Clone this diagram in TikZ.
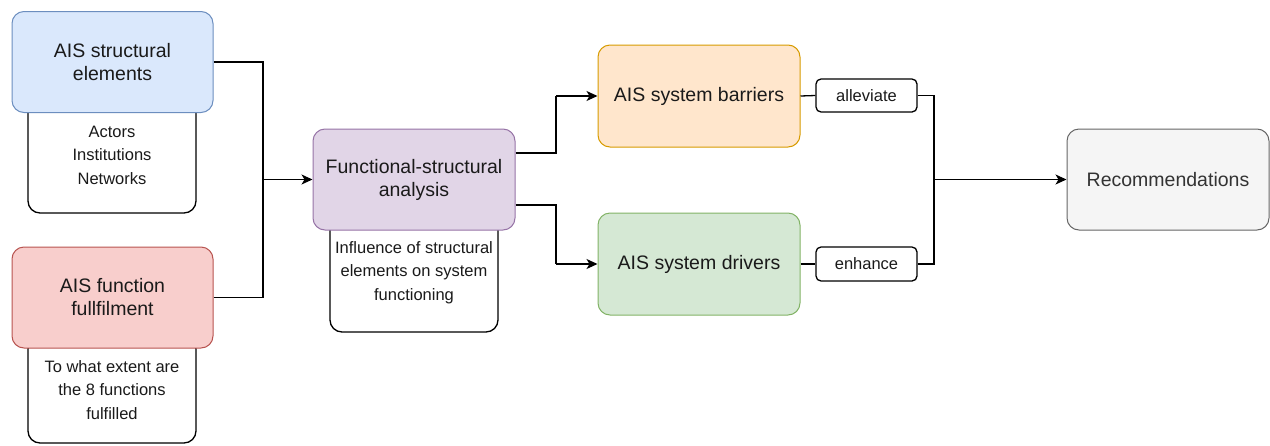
\documentclass[tikz,border=0pt]{standalone}
\usepackage{fontspec}
\setmainfont{Liberation Sans}
\usetikzlibrary{arrows.meta}

\definecolor{blueF}{HTML}{DAE8FC}\definecolor{blueD}{HTML}{6C8EBF}
\definecolor{redF}{HTML}{F8CECC}\definecolor{redD}{HTML}{B85450}
\definecolor{purpF}{HTML}{E1D5E7}\definecolor{purpD}{HTML}{9673A6}
\definecolor{orgF}{HTML}{FFE6CC}\definecolor{orgD}{HTML}{D79B00}
\definecolor{grnF}{HTML}{D5E8D4}\definecolor{grnD}{HTML}{82B366}
\definecolor{greyF}{HTML}{F5F5F5}\definecolor{greyD}{HTML}{666666}
\definecolor{txt}{HTML}{1A1A1A}\definecolor{greyT}{HTML}{333333}

\tikzset{
  mainbox/.style={draw, line width=1pt, rounded corners=12pt, minimum width=201pt,
    minimum height=101pt, align=center, text=txt, inner sep=0pt,
    font=\fontsize{19.5}{23}\selectfont},
  notebox/.style={draw=black, fill=white, line width=1.3pt, rounded corners=12pt,
    minimum width=168pt, align=center, text=txt, inner sep=0pt,
    font=\fontsize{16.5}{23.5}\selectfont},
  tagbox/.style={draw=black, fill=white, line width=1.3pt, rounded corners=5pt,
    minimum width=101pt, minimum height=33pt, text=txt, inner sep=0pt,
    font=\fontsize{16.5}{20}\selectfont},
  wire/.style={line width=1.3pt, draw=black},
  arr/.style={wire, -{Stealth[length=11pt,width=10pt,inset=3pt]}}
}

\begin{document}
\begin{tikzpicture}[x=1pt,y=-1pt]
\useasboundingbox (0,0) rectangle (1270,445);

% description panels, partly hidden behind their headers
\node[notebox, minimum height=116pt] (nStruct) at (112,155) {Actors\\Institutions\\Networks};
\node[notebox, minimum height=106pt] (nFunc) at (112,390) {To what extent are\\the 8 functions\\fulfilled};
\node[notebox, minimum height=119pt] (nAna) at (414,272.5) {Influence of structural\\elements on system\\functioning};

% header boxes
\node[mainbox, fill=blueF, draw=blueD] (struct) at (112.5,62) {AIS structural\\elements};
\node[mainbox, fill=redF, draw=redD] (func) at (112.5,297.5) {AIS function\\fullfilment};
\node[mainbox, fill=purpF, draw=purpD, minimum width=202pt] (ana) at (414,179.5) {Functional-structural\\analysis};
\node[mainbox, fill=orgF, draw=orgD, minimum width=202pt, minimum height=102pt] (barr) at (699,96) {AIS system barriers};
\node[mainbox, fill=grnF, draw=grnD, minimum width=202pt, minimum height=102pt] (driv) at (699,264) {AIS system drivers};
\node[mainbox, fill=greyF, draw=greyD, text=greyT, minimum width=202pt] (rec) at (1168,179.5) {Recommendations};

\node[tagbox] (allev) at (866.5,95.5) {alleviate};
\node[tagbox, minimum height=34pt] (enh) at (866.5,264) {enhance};

% junction points
\coordinate (jL) at (263,179.5);
\coordinate (jM) at (556,0);
\coordinate (jR) at (934,179.5);

% connectors
\draw[wire] (struct.east) -| (jL);
\draw[wire] (func.east) -| (jL);
\draw[arr] (jL) -- (ana.west);

\draw[wire] ([yshift=26.5pt]ana.east) -| (jM |- barr.west);
\draw[arr] (jM |- barr.west) -- (barr.west);
\draw[wire] ([yshift=-25.5pt]ana.east) -| (jM |- driv.west);
\draw[arr] (jM |- driv.west) -- (driv.west);

\draw[wire] (barr.east) -- (allev.west);
\draw[wire] (driv.east) -- (enh.west);
\draw[wire] (allev.east) -| (jR);
\draw[wire] (enh.east) -| (jR);
\draw[arr] (jR) -- (rec.west);
\end{tikzpicture}
\end{document}
